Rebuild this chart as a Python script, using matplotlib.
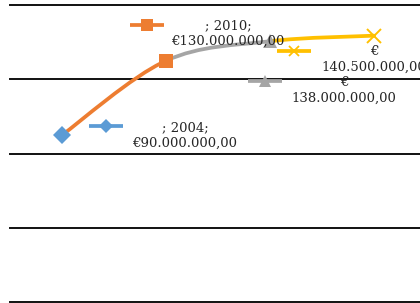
import matplotlib
matplotlib.use("Agg")
import matplotlib.pyplot as plt
from matplotlib.path import Path
from matplotlib.patches import PathPatch
from matplotlib.transforms import offset_copy


# ---------------------------------------------------------
# data
# ---------------------------------------------------------

POSITIONS = [0, 1, 2, 3]
VALUES = [90.0e6, 130.0e6, 140.5e6, 143.5e6]

LABEL_LINES = [
    ["; 2004;", "€90.000.000,00"],
    ["; 2010;", "€130.000.000,00"],
    ["€", "138.000.000,00"],
    ["€", "140.500.000,00"],
]

GRID_VALUES = [0, 40e6, 80e6, 120e6, 160e6]

# ---------------------------------------------------------
# style
# ---------------------------------------------------------

COLORS = ["#5B9BD5", "#ED7D31", "#A5A5A5", "#FFC000"]
MARKERS = ["D", "s", "^", "x"]
MARKER_SIZES = [9, 10.5, 10, 9.5]
KEY_MARKER_SIZES = [7, 8, 8, 7.5]

# offsets in pixels (dx, dy with y up) relative to each point
KEY_OFFSETS = [(44, 9), (-19, 36), (-5, -40), (-80, -15)]
TEXT_OFFSETS = [(123, 0), (62, 27), (74, -49), (0, -24)]

TEXT_COLOR = "#262626"
FONT = "DejaVu Serif"
LINE_W = 2.7


def smooth_path(xs, ys):
    # catmull-rom style bezier like Excel's smoothed line
    n = len(xs)
    segs = []
    for i in range(n - 1):
        x0, y0 = xs[max(i - 1, 0)], ys[max(i - 1, 0)]
        x1, y1 = xs[i], ys[i]
        x2, y2 = xs[i + 1], ys[i + 1]
        x3, y3 = xs[min(i + 2, n - 1)], ys[min(i + 2, n - 1)]
        c1 = (x1 + (x2 - x0) / 6, y1 + (y2 - y0) / 6)
        c2 = (x2 - (x3 - x1) / 6, y2 - (y3 - y1) / 6)
        segs.append(Path([(x1, y1), c1, c2, (x2, y2)],
                         [Path.MOVETO, Path.CURVE4, Path.CURVE4, Path.CURVE4]))
    return segs


def main():
    fig = plt.figure(figsize=(4.2, 3.03), dpi=100)
    ax = fig.add_axes([10 / 420, 0.7 / 303, 416 / 420, 297.3 / 303])
    ax.set_xlim(-0.5, 3.5)
    ax.set_ylim(0, 160e6)
    ax.axis("off")

    for g in GRID_VALUES:
        ax.axhline(g, color="#111111", lw=1.4, clip_on=False, zorder=1)

    # line segments, each coloured like the point it ends in
    for i, seg in enumerate(smooth_path(POSITIONS, VALUES)):
        ax.add_patch(PathPatch(seg, fill=False, edgecolor=COLORS[i + 1],
                               lw=LINE_W, capstyle="round", zorder=3 + i))

    for i, (x, y) in enumerate(zip(POSITIONS, VALUES)):
        z = 3 + i
        if MARKERS[i] == "x":
            ax.plot(x, y, marker="x", ms=MARKER_SIZES[i], mew=1.4,
                    color=COLORS[i], zorder=z + 0.5)
        else:
            ax.plot(x, y, marker=MARKERS[i], ms=MARKER_SIZES[i], mew=0,
                    color=COLORS[i], zorder=z)

        # legend key inside the data label
        kdx, kdy = KEY_OFFSETS[i]
        ktr = offset_copy(ax.transData, fig=fig, x=kdx, y=kdy, units="dots")
        ax.plot(x, y, marker="_", ms=25, mew=LINE_W, color=COLORS[i],
                transform=ktr, zorder=8)
        if MARKERS[i] == "x":
            ax.plot(x, y, marker="x", ms=KEY_MARKER_SIZES[i], mew=1.3,
                    color=COLORS[i], transform=ktr, zorder=9)
        else:
            ax.plot(x, y, marker=MARKERS[i], ms=KEY_MARKER_SIZES[i], mew=0,
                    color=COLORS[i], transform=ktr, zorder=9)

        tdx, tdy = TEXT_OFFSETS[i]
        ttr = offset_copy(ax.transData, fig=fig, x=tdx, y=tdy, units="dots")
        ax.text(x, y, "\n".join(LABEL_LINES[i]), transform=ttr,
                ha="center", va="center", multialignment="center",
                fontsize=9.5, family=FONT, color=TEXT_COLOR,
                linespacing=1.25, zorder=10)

    fig.savefig("out.png", dpi=100)
    plt.close(fig)


if __name__ == "__main__":
    main()
